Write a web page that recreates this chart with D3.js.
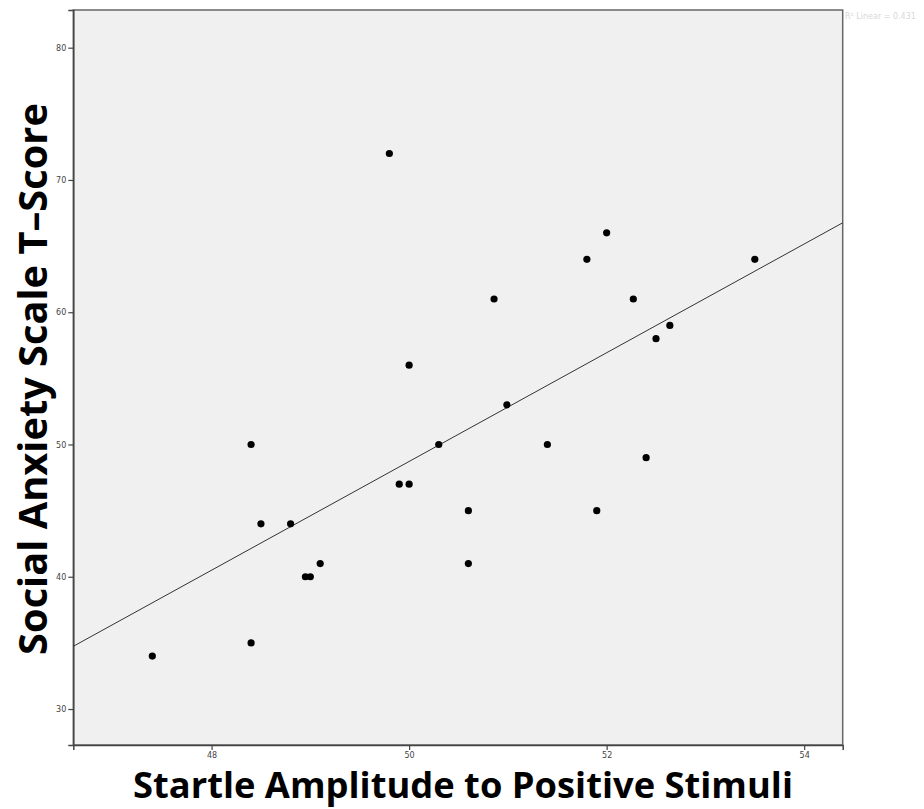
<!DOCTYPE html>
<html>
<head>
<meta charset="utf-8">
<script src="https://cdn.jsdelivr.net/npm/d3@7/dist/d3.min.js"></script>
<style>
  html, body { margin: 0; padding: 0; background: #fff; }
  svg { display: block; }
</style>
</head>
<body>
<svg id="chart" width="924" height="809"></svg>
<script>
// Data
const startle = [47.4, 48.4, 48.4, 48.5, 48.8, 48.95, 49.0, 49.1, 49.8, 49.9, 50.0, 50.0, 50.3,
                 50.6, 50.6, 50.86, 50.99, 51.4, 51.8, 51.9, 52.0, 52.27, 52.4, 52.5, 52.64, 53.5];
const anxiety = [34, 35, 50, 44, 44, 40, 40, 41, 72, 47, 47, 56, 50,
                 45, 41, 61, 53, 50, 64, 45, 66, 61, 49, 58, 59, 64];
const xTicks = [48, 50, 52, 54];
const yTicks = [30, 40, 50, 60, 70, 80];
const xDomain = [46.6, 54.39];
const yDomain = [27.28, 82.85];
const xTitle = "Startle Amplitude to Positive Stimuli";
const yTitle = "Social Anxiety Scale T\u2013Score";
const fitLabel = "R\u00B2 Linear = 0.431";

const svg = d3.select("#chart");
const plot = { left: 73.3, top: 10, right: 842.7, bottom: 745 };

const x = d3.scaleLinear().domain(xDomain).range([plot.left, plot.right]);
const y = d3.scaleLinear().domain(yDomain).range([plot.bottom, plot.top]);

// plot background
svg.append("rect")
  .attr("x", plot.left).attr("y", plot.top)
  .attr("width", plot.right - plot.left).attr("height", plot.bottom - plot.top)
  .attr("fill", "#f0f0f0")
  .attr("stroke", "#666").attr("stroke-width", 1.5);

// axes
const tickFont = "'DejaVu Sans', sans-serif";
const xAxis = svg.append("g")
  .attr("transform", `translate(0,${plot.bottom})`)
  .call(d3.axisBottom(x).tickValues(xTicks).tickSize(5).tickPadding(2).tickFormat(d3.format("d")));
const yAxis = svg.append("g")
  .attr("transform", `translate(${plot.left},0)`)
  .call(d3.axisLeft(y).tickValues(yTicks).tickSize(5).tickPadding(2).tickFormat(d3.format("d")));
[xAxis, yAxis].forEach(g => {
  g.select(".domain").attr("stroke", "#444").attr("stroke-width", 1.5);
  g.selectAll(".tick line").attr("stroke", "#444").attr("stroke-width", 1.2);
  g.selectAll(".tick text").attr("fill", "#444").style("font-family", tickFont).style("font-size", "8px");
});

// regression line (least squares)
const n = startle.length;
const mx = d3.mean(startle), my = d3.mean(anxiety);
let sxy = 0, sxx = 0;
for (let i = 0; i < n; i++) { sxy += (startle[i] - mx) * (anxiety[i] - my); sxx += (startle[i] - mx) ** 2; }
const slope = sxy / sxx, intercept = my - slope * mx;
svg.append("line")
  .attr("x1", x(xDomain[0])).attr("y1", y(intercept + slope * xDomain[0]))
  .attr("x2", x(xDomain[1])).attr("y2", y(intercept + slope * xDomain[1]))
  .attr("stroke", "#333").attr("stroke-width", 1);

// points
svg.append("g").selectAll("circle")
  .data(startle.map((v, i) => [v, anxiety[i]]))
  .join("circle")
  .attr("cx", d => x(d[0])).attr("cy", d => y(d[1]))
  .attr("r", 3.6).attr("fill", "#000");

// fit label
svg.append("text")
  .attr("x", 845).attr("y", 19)
  .attr("fill", "#d8d8d8")
  .style("font-family", tickFont).style("font-size", "8px")
  .text(fitLabel);

// titles
const titleFont = "'Open Sans', sans-serif";
function fitText(sel, target) {
  const w = sel.node().getComputedTextLength();
  const fs = parseFloat(sel.style("font-size"));
  sel.style("font-size", (fs * target / w).toFixed(2) + "px");
}
const xt = svg.append("text")
  .attr("x", (120 + 806) / 2).attr("y", 798)
  .attr("text-anchor", "middle")
  .style("font-family", titleFont).style("font-weight", "bold").style("font-size", "34px")
  .attr("fill", "#000")
  .text(xTitle);
fitText(xt, 660);

const yt = svg.append("text")
  .attr("transform", `translate(47,379) rotate(-90)`)
  .attr("text-anchor", "middle")
  .style("font-family", titleFont).style("font-weight", "bold").style("font-size", "30px")
  .attr("fill", "#000")
  .text(yTitle);
fitText(yt, 552);
</script>
</body>
</html>
